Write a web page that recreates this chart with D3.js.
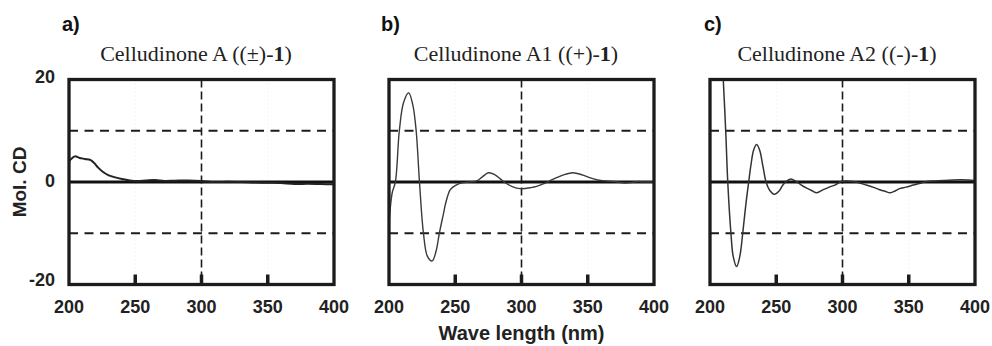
<!DOCTYPE html>
<html>
<head>
<meta charset="utf-8">
<script src="https://cdn.jsdelivr.net/npm/d3@7"></script>
<style>
  html, body { margin: 0; padding: 0; background: #fff; }
  svg { display: block; }
</style>
</head>
<body>
<svg id="chart" width="992" height="346"></svg>
<script>
// ---- Data ----
const panelLetters = ["a)", "b)", "c)"];
const titleNames = ["Celludinone A ((±)-", "Celludinone A1 ((+)-", "Celludinone A2 ((-)-"];
const xTicks = [200, 250, 300, 350, 400];
const yTicks = [20, 0, -20];
const gridY = [10, -10];
const gridX = [300];
const minorX = [250, 300, 350];

// Panel a: racemate (wavelength nm, Mol. CD)
const wlA = [200, 202, 204.5, 208, 212, 216, 219, 222, 226, 230, 235, 240, 246, 252, 258, 265, 272, 280, 290, 300, 310, 320, 330, 340, 350, 360, 370, 380, 390, 400];
const cdA = [4.0, 4.6, 5.0, 4.7, 4.5, 4.3, 3.7, 2.8, 1.9, 1.3, 0.9, 0.6, 0.3, 0.2, 0.3, 0.4, 0.2, 0.25, 0.3, 0.2, 0.0, 0.05, 0.0, -0.1, -0.15, -0.2, -0.4, -0.35, -0.4, -0.45];

// Panel b: (+)-1
const wlB = [200, 201, 202.5, 204.8, 207.8, 211, 214.9, 218, 220.5, 223, 226, 229, 232.6, 235.5, 238, 241, 243, 246, 248.2, 253, 260, 266, 270, 275, 280, 284, 288, 293, 299, 307, 312, 317, 322, 327, 333, 338.5, 343, 347, 352, 357.5, 364, 370, 378, 383, 388, 393, 400];
const cdB = [-8, -5, -2, 0, 10, 15.5, 17.4, 15, 10, 0, -10, -14.5, -15.4, -13.5, -10, -6.3, -3.9, -1.6, -1.0, -0.3, 0, 0.2, 0.9, 1.8, 1.4, 0.6, -0.2, -0.9, -1.3, -1.1, -0.8, -0.3, 0.3, 0.9, 1.5, 1.8, 1.6, 1.3, 0.8, 0.4, 0.2, 0.1, -0.2, -0.1, 0.1, 0.0, 0.0];

// Panel c: (-)-1
const wlC = [205, 208, 210, 212, 213.4, 215.8, 217.5, 220.1, 222.5, 224.7, 227, 229.2, 231, 233, 235.2, 237.5, 240, 242.3, 245, 248.5, 252, 255, 258, 261, 265, 269, 273, 277, 280.5, 285.5, 290, 295, 299, 303, 308, 313, 318, 323, 328, 332, 336, 340, 343, 348, 353.5, 358, 363.5, 370, 376, 383, 389, 395, 400];
const cdC = [45, 28, 20, 9, 0, -10, -14.5, -16.5, -14.5, -10, -4.5, 0, 3.5, 6.3, 7.3, 6.2, 3, 0, -1.6, -2.4, -1.8, -0.6, 0.2, 0.6, 0.1, -0.6, -1.2, -1.7, -2.1, -1.5, -1.0, -0.5, 0.1, 0.2, 0.1, -0.2, -0.6, -1.0, -1.5, -1.8, -2.1, -1.7, -1.3, -1.0, -0.6, -0.3, 0.1, 0.2, 0.3, 0.4, 0.45, 0.4, 0.3];

const series = [
  { wl: wlA, cd: cdA, width: 2.0, color: "#222" },
  { wl: wlB, cd: cdB, width: 1.4, color: "#3a3a3a" },
  { wl: wlC, cd: cdC, width: 1.5, color: "#333" }
];

// ---- Layout ----
const svg = d3.select("#chart");
const panelLeft = [69, 389, 710];
const panelW = 265;
const plotTop = 79.5, plotBottom = 284.5;
const ink = "#1c1c1c";
const sans = "'Liberation Sans', Arial, Helvetica, sans-serif";
const serif = "'Liberation Serif', 'Times New Roman', serif";

const y = d3.scaleLinear().domain([-20, 20]).range([plotBottom, plotTop]);

series.forEach((s, i) => {
  const x0 = panelLeft[i];
  const x = d3.scaleLinear().domain([200, 400]).range([x0, x0 + panelW]);
  const g = svg.append("g");

  const clipId = "clip" + i;
  svg.append("clipPath").attr("id", clipId)
    .append("rect").attr("x", x(200)).attr("y", y(20)).attr("width", x(400) - x(200)).attr("height", y(-20) - y(20));

  // faint minor verticals
  g.selectAll(".faint").data([250, 350]).join("line")
    .attr("x1", d => x(d)).attr("x2", d => x(d))
    .attr("y1", y(20)).attr("y2", y(-20))
    .attr("stroke", "#e8e8e8").attr("stroke-width", 1).attr("stroke-dasharray", "1,3");

  // dashed horizontal gridlines
  g.selectAll(".gy").data(gridY).join("line")
    .attr("x1", x(200)).attr("x2", x(400))
    .attr("y1", d => y(d)).attr("y2", d => y(d))
    .attr("stroke", ink).attr("stroke-width", 2).attr("stroke-dasharray", "9,6.5");

  // dashed vertical gridline
  g.selectAll(".gx").data(gridX).join("line")
    .attr("x1", d => x(d)).attr("x2", d => x(d))
    .attr("y1", y(20)).attr("y2", y(-20))
    .attr("stroke", ink).attr("stroke-width", 1.6).attr("stroke-dasharray", "8,4");

  // zero line
  g.append("line")
    .attr("x1", x(200)).attr("x2", x(400))
    .attr("y1", y(0)).attr("y2", y(0))
    .attr("stroke", "#111").attr("stroke-width", 3);

  // curve
  const pts = s.wl.map((w, k) => [w, s.cd[k]]);
  const line = d3.line().x(d => x(d[0])).y(d => y(d[1])).curve(d3.curveCatmullRom.alpha(0.5));
  g.append("path").attr("d", line(pts))
    .attr("fill", "none").attr("stroke", s.color).attr("stroke-width", s.width)
    .attr("stroke-linejoin", "round")
    .attr("clip-path", `url(#${clipId})`);

  // bottom tick marks
  g.selectAll(".tk").data(minorX).join("line")
    .attr("x1", d => x(d)).attr("x2", d => x(d))
    .attr("y1", y(-20)).attr("y2", y(-20) - 10)
    .attr("stroke", ink).attr("stroke-width", 3.5);

  // frame
  g.append("rect")
    .attr("x", x(200)).attr("y", y(20))
    .attr("width", x(400) - x(200)).attr("height", y(-20) - y(20))
    .attr("fill", "none").attr("stroke", ink).attr("stroke-width", 3.3);

  // x tick labels
  g.selectAll(".xl").data(xTicks).join("text")
    .attr("x", d => x(d)).attr("y", y(-20) + 28)
    .attr("text-anchor", "middle")
    .attr("font-family", sans).attr("font-weight", "bold").attr("font-size", 18)
    .attr("fill", "#222")
    .text(d => d);

  // panel letter
  g.append("text")
    .attr("x", x0 - 7 + (i === 1 ? -1 : 0) + (i === 2 ? 1 : 0)).attr("y", 31)
    .attr("font-family", sans).attr("font-weight", "bold").attr("font-size", 20)
    .attr("fill", "#111")
    .text(panelLetters[i]);

  // title
  const t = g.append("text")
    .attr("x", x0 + panelW / 2 - 5.5).attr("y", 61)
    .attr("text-anchor", "middle")
    .attr("font-family", serif).attr("font-size", 22)
    .attr("fill", "#222");
  t.append("tspan").text(titleNames[i]);
  t.append("tspan").attr("font-weight", "bold").text("1");
  t.append("tspan").text(")");
});

// y tick labels (only leftmost panel)
svg.selectAll(".yl").data(yTicks).join("text")
  .attr("x", 55).attr("y", d => y(d) + (d === 20 ? 3 : d === 0 ? 5 : 1.5))
  .attr("text-anchor", "end")
  .attr("font-family", sans).attr("font-weight", "bold").attr("font-size", 18)
  .attr("fill", "#222")
  .text(d => d);

// y axis title
svg.append("text")
  .attr("transform", `translate(26, ${y(0)}) rotate(-90)`)
  .attr("text-anchor", "middle")
  .attr("font-family", sans).attr("font-weight", "bold").attr("font-size", 19)
  .attr("fill", "#222")
  .text("Mol. CD");

// x axis title
svg.append("text")
  .attr("x", 521.5).attr("y", 340)
  .attr("text-anchor", "middle")
  .attr("font-family", sans).attr("font-weight", "bold").attr("font-size", 20)
  .attr("fill", "#222")
  .text("Wave length (nm)");
</script>
</body>
</html>
